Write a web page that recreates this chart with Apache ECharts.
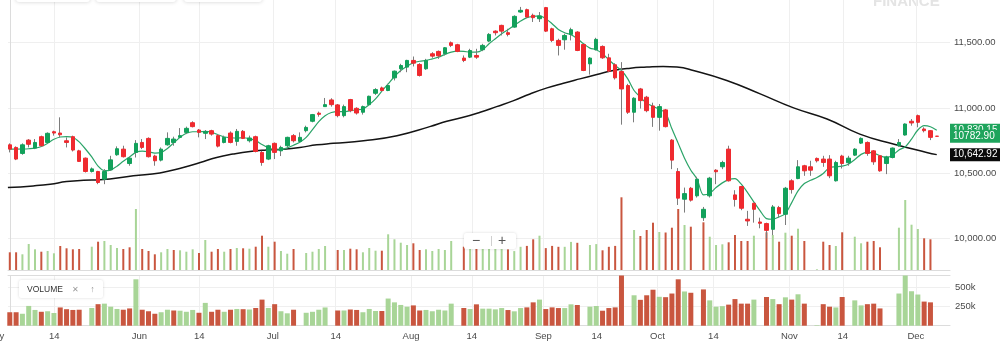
<!DOCTYPE html>
<html><head><meta charset="utf-8">
<script src="https://cdn.jsdelivr.net/npm/echarts@6/dist/echarts.min.js"></script>
<style>html,body{margin:0;padding:0;background:#fff;overflow:hidden}#c{width:1000px;height:346px}</style>
</head><body><div id="c"></div>
<script>
// ---- data (one entry per trading-day slot) ----
// [open, close, low, high]
const candles = [
[10718,10685,10660,10729],[10698,10609,10601,10706],[10652,10718,10642,10729],[10754,10722,10698,10762],[10693,10736,10685,10762],
[10780,10711,10703,10788],[10736,10806,10729,10813],[10818,10808,10788,10826],[10808,10795,10775,10928],[10749,10736,10698,10775],
[10780,10678,10667,10788],[10672,10591,10588,10680],[10616,10514,10506,10621],[10514,10534,10506,10545],[10514,10430,10417,10519],
[10455,10514,10417,10532],[10527,10603,10519,10634],[10642,10688,10634,10706],[10685,10627,10621,10711],[10575,10616,10558,10627],
[10660,10729,10621,10754],[10736,10698,10685,10762],[10767,10627,10621,10775],[10632,10596,10558,10642],[10601,10685,10591,10698],
[10718,10767,10711,10813],[10736,10762,10711,10780],[10775,10788,10775,10846],[10813,10844,10800,10857],[10887,10857,10851,10898],
[10831,10813,10775,10839],[10806,10818,10762,10831],[10826,10800,10788,10833],[10788,10708,10698,10800],[10736,10775,10729,10788],
[10808,10736,10729,10821],[10744,10821,10711,10839],[10821,10767,10762,10831],[10749,10770,10736,10788],[10780,10667,10660,10788],
[10660,10583,10558,10672],[10609,10711,10601,10718],[10729,10660,10609,10736],[10672,10698,10632,10711],[10711,10775,10698,10780],
[10788,10749,10736,10800],[10744,10775,10736,10813],[10826,10851,10813,10864],[10898,10949,10890,10954],[10960,10951,10933,10972],
[11010,11025,11010,11076],[11061,11025,11010,11074],[11023,10941,10928,11030],[10941,11010,10928,11025],[11064,10979,10967,11069],
[10997,10961,10949,11005],[10967,11010,10949,11018],[11025,11089,11018,11094],[11112,11140,11099,11151],[11153,11133,11125,11163],
[11133,11171,11128,11184],[11230,11281,11210,11286],[11299,11324,11273,11337],[11312,11363,11273,11368],[11363,11342,11317,11393],
[11332,11248,11240,11342],[11299,11363,11291,11375],[11414,11396,11383,11426],[11432,11398,11375,11439],[11414,11460,11401,11465],
[11498,11478,11465,11508],[11483,11432,11426,11490],[11381,11363,11350,11401],[11388,11439,11381,11452],[11401,11388,11375,11452],
[11445,11478,11434,11490],[11511,11562,11503,11572],[11587,11575,11554,11593],[11631,11587,11554,11636],[11575,11562,11547,11605],
[11618,11700,11613,11708],[11733,11746,11726,11772],[11751,11695,11690,11759],[11708,11690,11657,11721],[11682,11703,11657,11733],
[11767,11587,11580,11772],[11605,11516,11503,11613],[11516,11478,11401,11529],[11521,11554,11445,11567],[11562,11598,11516,11613],
[11580,11439,11434,11587],[11485,11286,11281,11490],[11337,11381,11255,11388],[11445,11524,11439,11536],[11470,11383,11375,11478],
[11383,11281,11273,11414],[11330,11230,11217,11342],[11278,11145,10872,11350],[11171,10967,10954,11184],[10967,11074,10890,11082],
[11145,11056,10995,11153],[11082,10979,10967,11092],[11015,10928,10855,11040],[10928,11010,10826,11030],[10985,10857,10851,10992],
[10754,10601,10532,10762],[10514,10310,10258,10540],[10302,10345,10200,10391],[10386,10295,10284,10396],[10328,10455,10315,10473],
[10161,10225,10136,10243],[10328,10463,10315,10473],[10524,10512,10417,10532],[10550,10583,10532,10596],[10685,10443,10437,10711],
[10335,10300,10246,10371],[10399,10233,10218,10404],[10149,10136,10098,10213],[10271,10225,10123,10276],[10128,10118,10080,10161],
[10116,10064,10003,10123],[10072,10243,10028,10258],[10238,10192,10161,10251],[10187,10386,10105,10396],[10443,10376,10345,10455],
[10460,10550,10455,10601],[10558,10519,10481,10565],[10550,10524,10481,10596],[10614,10596,10583,10621],[10609,10583,10550,10634],
[10609,10481,10463,10639],[10443,10583,10437,10596],[10632,10575,10537,10642],[10581,10616,10558,10634],[10639,10685,10632,10693],
[10731,10767,10724,10775],[10736,10652,10634,10744],[10672,10588,10565,10678],[10634,10519,10512,10639],[10575,10626,10494,10634],
[10621,10693,10614,10698],[10711,10736,10703,10762],[10793,10877,10788,10882],[10898,10885,10864,10915],[10941,10890,10852,10949],
[10839,10826,10813,10852],[10826,10775,10754,10831],[10784,10782.90,10781,10786]
];
// volume in thousands
const volumes = [
177,177,157,260,207,183,190,167,240,217,
207,210,0,233,283,290,250,220,210,227,
610,210,190,157,177,210,200,197,183,207,
170,300,183,210,183,210,220,217,213,233,
343,233,283,190,163,210,0,170,183,210,
240,0,200,200,213,207,177,220,193,193,
357,307,273,250,267,200,207,190,210,200,
290,0,233,219,281,224,224,215,232,206,
189,232,241,307,343,219,241,232,232,281,
272,0,250,259,197,232,241,727,0,400,
340,400,473,380,375,423,610,450,433,0,
477,333,250,257,277,350,290,290,343,0,
377,350,283,373,343,413,290,0,7,283,
250,240,377,0,333,267,283,290,227,0,
0,423,700,453,410,317,307,0
];
// short moving average (green), one value per slot
const maFast = [
10685,10685,10686,10688,10692,10705,10730,10760,10778,10781,
10776,10740,10686,10625,10555,10521,10525,10555,10592,10625,
10660,10670,10665,10655,10660,10690,10733,10775,10806,10818,
10818,10820,10814,10795,10778,10772,10769,10772,10765,10750,
10720,10695,10680,10680,10695,10715,10738,10775,10835,10895,
10940,10965,10972,10972,10979,10985,10992,11025,11069,11128,
11184,11240,11286,11319,11345,11357,11363,11375,11388,11409,
11426,11434,11432,11426,11426,11445,11490,11529,11567,11598,
11631,11664,11690,11700,11703,11682,11644,11600,11575,11559,
11529,11490,11457,11445,11414,11368,11324,11286,11222,11133,
11082,11036,11012,10990,10960,10840,10729,10616,10524,10455,
10335,10348,10391,10427,10452,10460,10417,10353,10281,10213,
10154,10149,10167,10192,10276,10366,10422,10447,10468,10498,
10545,10550,10555,10570,10605,10645,10660,10655,10634,10621,
10639,10678,10703,10762,10831,10864,10856,10830.15
];
// long moving average (black), read at [slot, value]
const maSlow = [
[-0.3,10391],[3.7,10404],[6.4,10417],[9.0,10437],[11.7,10447],[14.3,10450],[19.6,10481],[23.8,10503],
[27.5,10545],[30.2,10583],[32.8,10621],[35.4,10647],[38.1,10667],[40.7,10678],[43.4,10685],[46.0,10698],
[48.7,10718],[51.3,10729],[56.1,10749],[61.4,10788],[66.6,10857],[69.3,10898],[71.9,10928],[74.6,10967],
[77.2,11010],[79.9,11056],[82.5,11107],[85.2,11153],[87.8,11189],[90.4,11222],[93.1,11255],[95.7,11286],
[98.4,11304],[101.0,11312],[103.6,11317],[105.8,11312],[108.4,11286],[113.7,11210],[119.0,11107],
[124.3,11000],[129.6,10915],[134.8,10800],[140.1,10724],[145.4,10660],[147,10642.92]
];
const tickSlots  = [7.06,20.54,30.06,41.7,51.69,63.63,73.26,84.62,93.09,102.7,111.58,123.63,132.1,143.68];
const tickLabels = ['14','Jun','14','Jul','14','Aug','14','Sep','14','Oct','14','Nov','14','Dec'];
const clippedTick = {slot: -2.3, label: 'May'};   // month label cut by the left edge
const priceTicks = [10000,10500,11000,11500];
const volTicks = [250,500];

// ---- styling ----
const FONT = "'Liberation Sans', Arial, sans-serif";
const UP = '#12a15b', DOWN = '#ef2a2f', WICK = '#7c7c7c';
const VUP = '#a8d597', VDOWN = '#c9563f';
const GRIDC = '#efefef', AXISC = '#dcdcdc';
const XMIN = -0.285, XMAX = 149.1;

const fmtPrice = v => v.toLocaleString('en-US', {minimumFractionDigits: 2, maximumFractionDigits: 2});
const wickData = candles.map((d, i) => [i, d[0], d[1], d[2], d[3]]);
const bodyData = candles.map((d, i) => [i, d[0], d[1], Math.min(d[0], d[1]), Math.max(d[0], d[1])]);
const isUpVol = i => i === 0 ? candles[0][1] >= candles[0][0] : candles[i][1] >= candles[i - 1][1];
const volData = volumes.map((v, i) => ({value: [i, v], itemStyle: {color: isUpVol(i) ? VUP : VDOWN}}));
const tickText = v => { const k = tickSlots.findIndex(t => Math.abs(t - v) < 1e-6); return k >= 0 ? tickLabels[k] : ''; };

const chart = echarts.init(document.getElementById('c'), null, {renderer: 'canvas'});
const option = {
  animation: false,
  backgroundColor: '#fff',
  grid: [
    {left: 8, top: 0, width: 942, height: 270},
    {left: 8, top: 275.5, width: 942, height: 50.2}
  ],
  xAxis: [
    {type: 'value', gridIndex: 0, min: XMIN, max: XMAX,
     axisLine: {show: true, onZero: false, lineStyle: {color: AXISC}},
     axisTick: {show: false, customValues: tickSlots},
     axisLabel: {show: false, customValues: tickSlots},
     splitLine: {show: true, lineStyle: {color: GRIDC}}},
    {type: 'value', gridIndex: 1, min: XMIN, max: XMAX,
     axisLine: {show: true, onZero: false, lineStyle: {color: AXISC}},
     axisTick: {show: false, customValues: tickSlots},
     axisLabel: {show: true, customValues: tickSlots, formatter: tickText, color: '#4a4a4a',
                 fontSize: 9.5, fontFamily: FONT, margin: 6},
     splitLine: {show: true, lineStyle: {color: GRIDC}}},
    {type: 'value', gridIndex: 1, min: XMIN, max: XMAX, position: 'top',
     axisLine: {show: true, onZero: false, lineStyle: {color: AXISC}},
     axisTick: {show: false}, axisLabel: {show: false}, splitLine: {show: false}}
  ],
  yAxis: [
    {type: 'value', gridIndex: 0, position: 'right', min: 9761, max: 11825, scale: true,
     axisLine: {show: true, lineStyle: {color: AXISC}},
     axisTick: {show: false, customValues: priceTicks},
     axisLabel: {customValues: priceTicks, formatter: v => fmtPrice(v), color: '#4a4a4a',
                 fontSize: 9.5, fontFamily: FONT, margin: 4},
     splitLine: {show: true, lineStyle: {color: GRIDC}}},
    {type: 'value', gridIndex: 0, min: 0, max: 2700, show: false, splitLine: {show: false}},
    {type: 'value', gridIndex: 1, position: 'right', min: 0, max: 660,
     axisLine: {show: true, lineStyle: {color: AXISC}},
     axisTick: {show: false, customValues: volTicks},
     axisLabel: {customValues: volTicks, formatter: v => v + 'k', color: '#4a4a4a',
                 fontSize: 9.5, fontFamily: FONT, margin: 5},
     splitLine: {show: true, lineStyle: {color: GRIDC}}}
  ],
  series: [
    {type: 'bar', name: 'vol-overlay', xAxisIndex: 0, yAxisIndex: 1, barWidth: 2, data: volData, silent: true, z: 1},
    {type: 'bar', name: 'volume', xAxisIndex: 1, yAxisIndex: 2, barWidth: 5, data: volData, silent: true, z: 2},
    {type: 'line', name: 'slow', xAxisIndex: 0, yAxisIndex: 0, data: maSlow, smooth: 0.5, symbol: 'none',
     lineStyle: {color: '#141414', width: 1.5}, z: 3},
    {type: 'line', name: 'fast', xAxisIndex: 0, yAxisIndex: 0, data: maFast.map((v, i) => [i, v]), smooth: 0.3,
     symbol: 'none', lineStyle: {color: '#2ba468', width: 1.2}, z: 3},
    {type: 'candlestick', name: 'wick', xAxisIndex: 0, yAxisIndex: 0, barWidth: 1, data: wickData,
     encode: {x: 0, y: [1, 2, 3, 4]},
     itemStyle: {color: WICK, color0: WICK, borderColor: WICK, borderColor0: WICK, borderWidth: 1}, z: 4},
    {type: 'candlestick', name: 'body', xAxisIndex: 0, yAxisIndex: 0, barWidth: 4, data: bodyData,
     encode: {x: 0, y: [1, 2, 3, 4]},
     itemStyle: {color: UP, color0: DOWN, borderColor: UP, borderColor0: DOWN, borderWidth: 1}, z: 5}
  ],
  graphic: [
    // faint toolbar buttons at the very top
    {type: 'rect', shape: {x: 16, y: -30, width: 74, height: 32, r: 3}, style: {fill: '#fff', shadowBlur: 4, shadowColor: 'rgba(0,0,0,0.18)'}, z: 10},
    {type: 'rect', shape: {x: 96, y: -30, width: 80, height: 32, r: 3}, style: {fill: '#fff', shadowBlur: 4, shadowColor: 'rgba(0,0,0,0.18)'}, z: 10},
    {type: 'rect', shape: {x: 184, y: -30, width: 78, height: 32, r: 3}, style: {fill: '#fff', shadowBlur: 4, shadowColor: 'rgba(0,0,0,0.18)'}, z: 10},
    {type: 'text', x: 873, y: 9, style: {text: 'FINANCE', fill: '#e4e4e4', font: "bold 15px " + FONT, textVerticalAlign: 'bottom'}, z: 0},
    // zoom control
    {type: 'rect', shape: {x: 464, y: 233, width: 52, height: 16, r: 2}, style: {fill: '#fff', shadowBlur: 3, shadowColor: 'rgba(0,0,0,0.15)'}, z: 10},
    {type: 'text', x: 476, y: 241, style: {text: '\u2212', fill: '#555', font: "14px " + FONT, textAlign: 'center', textVerticalAlign: 'middle'}, z: 11},
    {type: 'line', shape: {x1: 491.5, y1: 236, x2: 491.5, y2: 246}, style: {stroke: '#cfcfcf', lineWidth: 1}, z: 11},
    {type: 'text', x: 502, y: 241, style: {text: '+', fill: '#555', font: "14px " + FONT, textAlign: 'center', textVerticalAlign: 'middle'}, z: 11},
    // volume legend chip
    {type: 'rect', shape: {x: 19, y: 280, width: 84, height: 18, r: 2}, style: {fill: '#fff', shadowBlur: 3, shadowColor: 'rgba(0,0,0,0.15)'}, z: 10},
    {type: 'text', x: 27, y: 289.5, style: {text: 'VOLUME', fill: '#333', font: "8.5px " + FONT, textVerticalAlign: 'middle'}, z: 11},
    {type: 'text', x: 75, y: 289.5, style: {text: '\u2715', fill: '#999', font: "8px " + FONT, textAlign: 'center', textVerticalAlign: 'middle'}, z: 11},
    {type: 'text', x: 92.5, y: 289.5, style: {text: '\u2191', fill: '#999', font: "9px " + FONT, textAlign: 'center', textVerticalAlign: 'middle'}, z: 11}
  ]
};
chart.setOption(option);

// right-side value tags positioned through the price axis
const tags = [
  {v: maFast[maFast.length - 1], bg: '#1ea45c'},
  {v: candles[candles.length - 1][1], bg: '#1ea45c'},
  {v: maSlow[maSlow.length - 1][1], bg: '#0b0b0b'}
];
const extra = [];
tags.forEach((t, i) => {
  const y = chart.convertToPixel({yAxisIndex: 0}, t.v);
  extra.push({type: 'rect', id: 'tagbox' + i, shape: {x: 950, y: y - 6.5, width: 50, height: 13}, style: {fill: t.bg}, z: 20 + i * 2});
  extra.push({type: 'text', id: 'tagtxt' + i, x: 953, y: y, style: {text: t.v === candles[candles.length - 1][1] ? t.v.toFixed(2) : fmtPrice(t.v),
    fill: '#fff', font: "10px " + FONT, textVerticalAlign: 'middle'}, z: 21 + i * 2});
});
// the month label clipped by the left edge, placed through the x scale
const mayX = chart.convertToPixel({xAxisIndex: 1}, clippedTick.slot);
extra.push({type: 'text', id: 'clippedTick', x: mayX, y: 336, style: {text: clippedTick.label, fill: '#4a4a4a',
  font: "9.5px " + FONT, textAlign: 'center', textVerticalAlign: 'middle'}, z: 5});
chart.setOption({graphic: option.graphic.concat(extra)});
</script>
</body></html>
